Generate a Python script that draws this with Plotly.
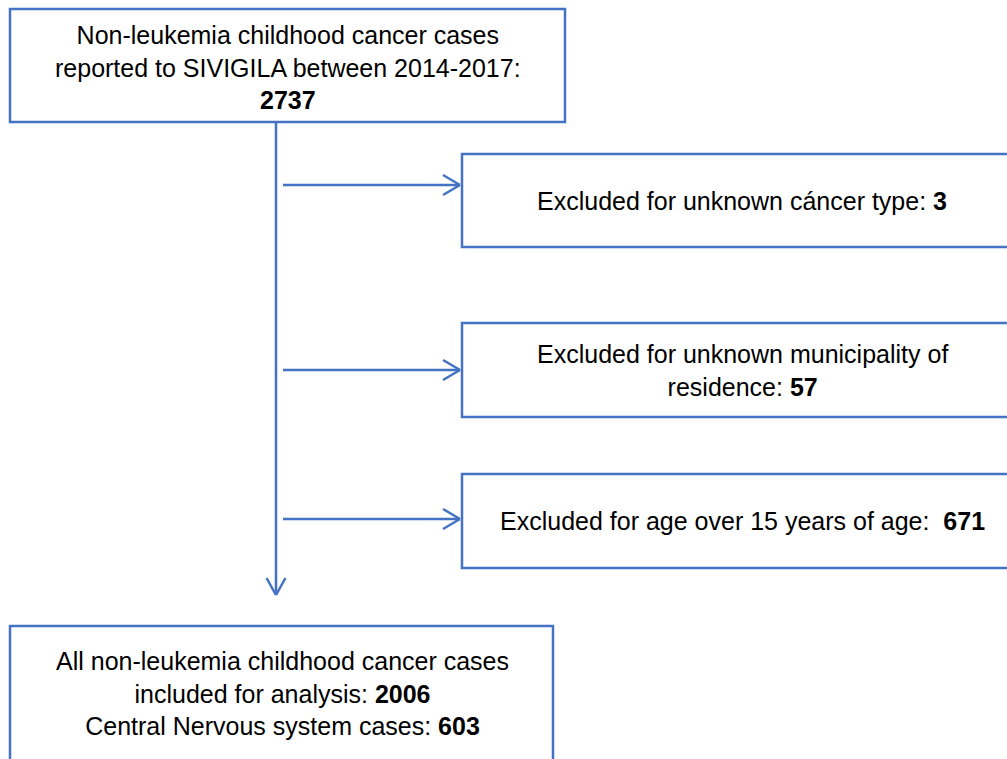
import plotly.graph_objects as go

# Flowchart content
top_label = "Non-leukemia childhood cancer cases<br>reported to SIVIGILA between 2014-2017:<br>"
top_count = 2737
excl_labels = [
    "Excluded for unknown cáncer type: ",
    "Excluded for unknown municipality of<br>residence: ",
    "Excluded for age over 15 years of age:\u00a0\u00a0",
]
excl_counts = [3, 57, 671]
final_label_1 = "All non-leukemia childhood cancer cases<br>included for analysis: "
final_count_1 = 2006
final_label_2 = "<br>Central Nervous system cases: "
final_count_2 = 603

BLUE = "#4472C4"
FONT = dict(family="Liberation Sans, Arial, sans-serif", size=25, color="#000000")
LW = 2.5

fig = go.Figure()
shapes = []
annotations = []

def box(x0, y0, x1, y1):
    shapes.append(dict(type="rect", x0=x0, y0=y0, x1=x1, y1=y1,
                       line=dict(color=BLUE, width=LW), fillcolor="white", layer="below"))

def line(x0, y0, x1, y1):
    shapes.append(dict(type="line", x0=x0, y0=y0, x1=x1, y1=y1,
                       line=dict(color=BLUE, width=LW)))

def text(x, y, t):
    annotations.append(dict(x=x, y=y, text=t, showarrow=False, font=FONT,
                            xanchor="center", yanchor="middle", align="center"))

# top box
box(10, 9, 565, 122)
text(287.5, 67, f"{top_label}<b>{top_count}</b>")

# vertical trunk with arrow
line(276, 122, 276, 595)
line(266.5, 578, 276, 595)
line(285.5, 578, 276, 595)

# exclusion boxes and arrows
excl_boxes = [(154, 247), (323, 417), (474, 568)]
arrow_y = [185, 370, 519]
for (y0, y1), ay, lab, cnt in zip(excl_boxes, arrow_y, excl_labels, excl_counts):
    box(462, y0, 1022, y1)
    line(283, ay, 460, ay)
    line(443, ay - 10, 460, ay)
    line(443, ay + 10, 460, ay)
    text(742, (y0 + y1) / 2, f"{lab}<b>{cnt}</b>")

# final box
box(10, 626, 553, 800)
text(282, 693, f"{final_label_1}<b>{final_count_1}</b>{final_label_2}<b>{final_count_2}</b>")

fig.update_layout(
    width=1007, height=759,
    margin=dict(l=0, r=0, t=0, b=0),
    paper_bgcolor="white", plot_bgcolor="white",
    xaxis=dict(range=[0, 1007], visible=False, fixedrange=True),
    yaxis=dict(range=[759, 0], visible=False, fixedrange=True),
    shapes=shapes, annotations=annotations, showlegend=False,
)
fig.write_html("out.html", config={"displayModeBar": False},
               post_script="document.body.style.margin='0';document.body.style.overflow='hidden';")
